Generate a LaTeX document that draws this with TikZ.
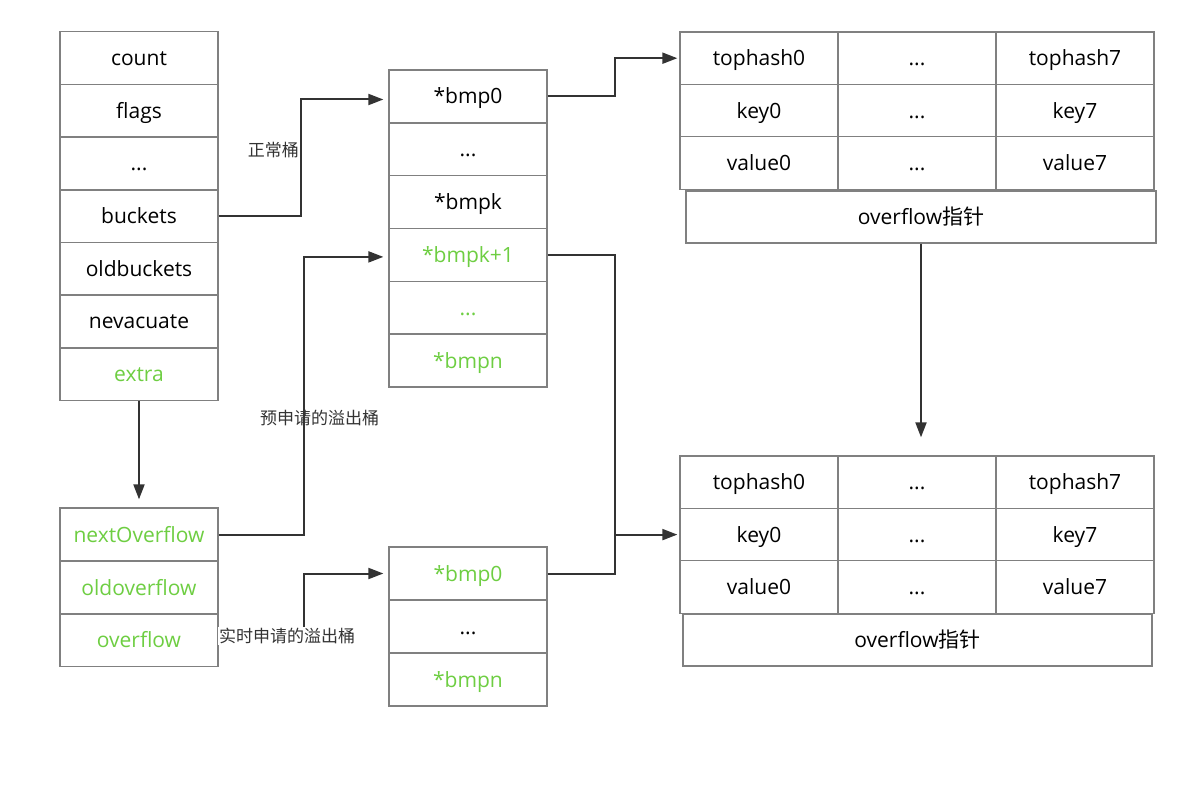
\documentclass[tikz,border=0pt]{standalone}
\usepackage{fontspec}
\setmainfont{Open Sans}
\newfontfamily\cjk{Noto Sans CJK SC}
\usetikzlibrary{arrows.meta}
\definecolor{boxline}{RGB}{128,128,128}
\definecolor{arrowc}{RGB}{51,51,51}
\definecolor{greentxt}{RGB}{110,206,66}
\begin{document}
\begin{tikzpicture}[x=1pt,y=-1pt,
  cell/.style={draw=boxline,line width=1.3pt,minimum width=158pt,minimum height=53pt,inner sep=0pt,font=\fontsize{21pt}{25pt}\selectfont,text=black,text height=15pt,text depth=0pt},
  gcell/.style={cell,text=greentxt},
  wcell/.style={cell,minimum width=#1},
  conn/.style={draw=arrowc,line width=2pt,-{Triangle[length=15pt,width=11pt]},shorten >=5pt},
  line/.style={draw=arrowc,line width=2pt},
  lbl/.style={font=\cjk\fontsize{17pt}{20pt}\selectfont,inner sep=1pt,text=arrowc}]
\useasboundingbox (0,0) rectangle (1202,786);
\fill[white] (0,0) rectangle (1202,786);
% left column
\node[cell] (count) at (139,58) {count};
\node[cell] (flags) at (139,110.7) {flags};
\node[cell] (ldots) at (139,163.4) {...};
\node[cell] (buckets) at (139,216.1) {buckets};
\node[cell] (oldbuckets) at (139,268.8) {oldbuckets};
\node[cell] (nevacuate) at (139,321.5) {nevacuate};
\node[gcell] (extra) at (139,374.2) {extra};
% extra block
\node[gcell] (nextOverflow) at (139,534.5) {nextOverflow};
\node[gcell] (oldoverflow) at (139,587.5) {oldoverflow};
\node[gcell] (overflowl) at (139,640.3) {overflow};
% middle column
\node[cell] (bmp0) at (468,96.5) {*bmp0};
\node[cell] (mdots) at (468,149.3) {...};
\node[cell] (bmpk) at (468,202.1) {*bmpk};
\node[gcell] (bmpk1) at (468,254.9) {*bmpk+1};
\node[gcell] (mgdots) at (468,307.7) {...};
\node[gcell] (bmpn) at (468,360.5) {*bmpn};
% lower middle
\node[gcell] (lbmp0) at (468,573.5) {*bmp0};
\node[cell] (ldots2) at (468,626.5) {...};
\node[gcell] (lbmpn) at (468,679.5) {*bmpn};
% right top table
\node[cell,minimum height=52.4pt] (th0a) at (759,58.2) {tophash0};
\node[cell,minimum height=52.4pt] (thda) at (917,58.2) {...};
\node[cell,minimum height=52.4pt] (th7a) at (1075,58.2) {tophash7};
\node[cell,minimum height=52.4pt] (k0a) at (759,110.6) {key0};
\node[cell,minimum height=52.4pt] (kda) at (917,110.6) {...};
\node[cell,minimum height=52.4pt] (k7a) at (1075,110.6) {key7};
\node[cell,minimum height=52.4pt] (v0a) at (759,163) {value0};
\node[cell,minimum height=52.4pt] (vda) at (917,163) {...};
\node[cell,minimum height=52.4pt] (v7a) at (1075,163) {value7};
\node[wcell=470pt,minimum height=52pt] (ova) at (921,217) {overflow{\cjk 指针}};
% right bottom table
\node[cell,minimum height=52.4pt] (th0b) at (759,482.2) {tophash0};
\node[cell,minimum height=52.4pt] (thdb) at (917,482.2) {...};
\node[cell,minimum height=52.4pt] (th7b) at (1075,482.2) {tophash7};
\node[cell,minimum height=52.4pt] (k0b) at (759,534.6) {key0};
\node[cell,minimum height=52.4pt] (kdb) at (917,534.6) {...};
\node[cell,minimum height=52.4pt] (k7b) at (1075,534.6) {key7};
\node[cell,minimum height=52.4pt] (v0b) at (759,587) {value0};
\node[cell,minimum height=52.4pt] (vdb) at (917,587) {...};
\node[cell,minimum height=52.4pt] (v7b) at (1075,587) {value7};
\node[wcell=469pt,minimum height=52pt] (ovb) at (917.5,640) {overflow{\cjk 指针}};
% connectors
\draw[conn] (buckets.east) -- ++(82,0) |- ([yshift=-3pt]bmp0.west);
\node[lbl,anchor=east] (lnormal) at (300,150) {正常桶};
\draw[conn,shorten >=8pt] (extra.south) -- (nextOverflow.north);
\draw[conn] (nextOverflow.east) -- ++(85,0) |- ([yshift=-2pt]bmpk1.west);
\node[lbl,anchor=west] (lpre) at (259,418) {预申请的溢出桶};
\draw[conn] (overflowl.east) -- ++(85,0) |- (lbmp0.west);
\node[lbl,anchor=west,fill=white,inner sep=1pt] (lrt) at (218,636) {实时申请的溢出桶};
\draw[conn,shorten >=2pt] (bmp0.east) -- ++(67,0) |- (th0a.west);
\draw[conn,shorten >=2pt] (bmpk1.east) -- ++(67,0) |- (k0b.west);
\draw[line] (lbmp0.east) -- ++(67,0) coordinate (jn) -- (jn |- k0b.west);
\draw[conn,shorten >=18pt] (ova.south) -- (ova.south |- th0b.north);
\end{tikzpicture}
\end{document}
